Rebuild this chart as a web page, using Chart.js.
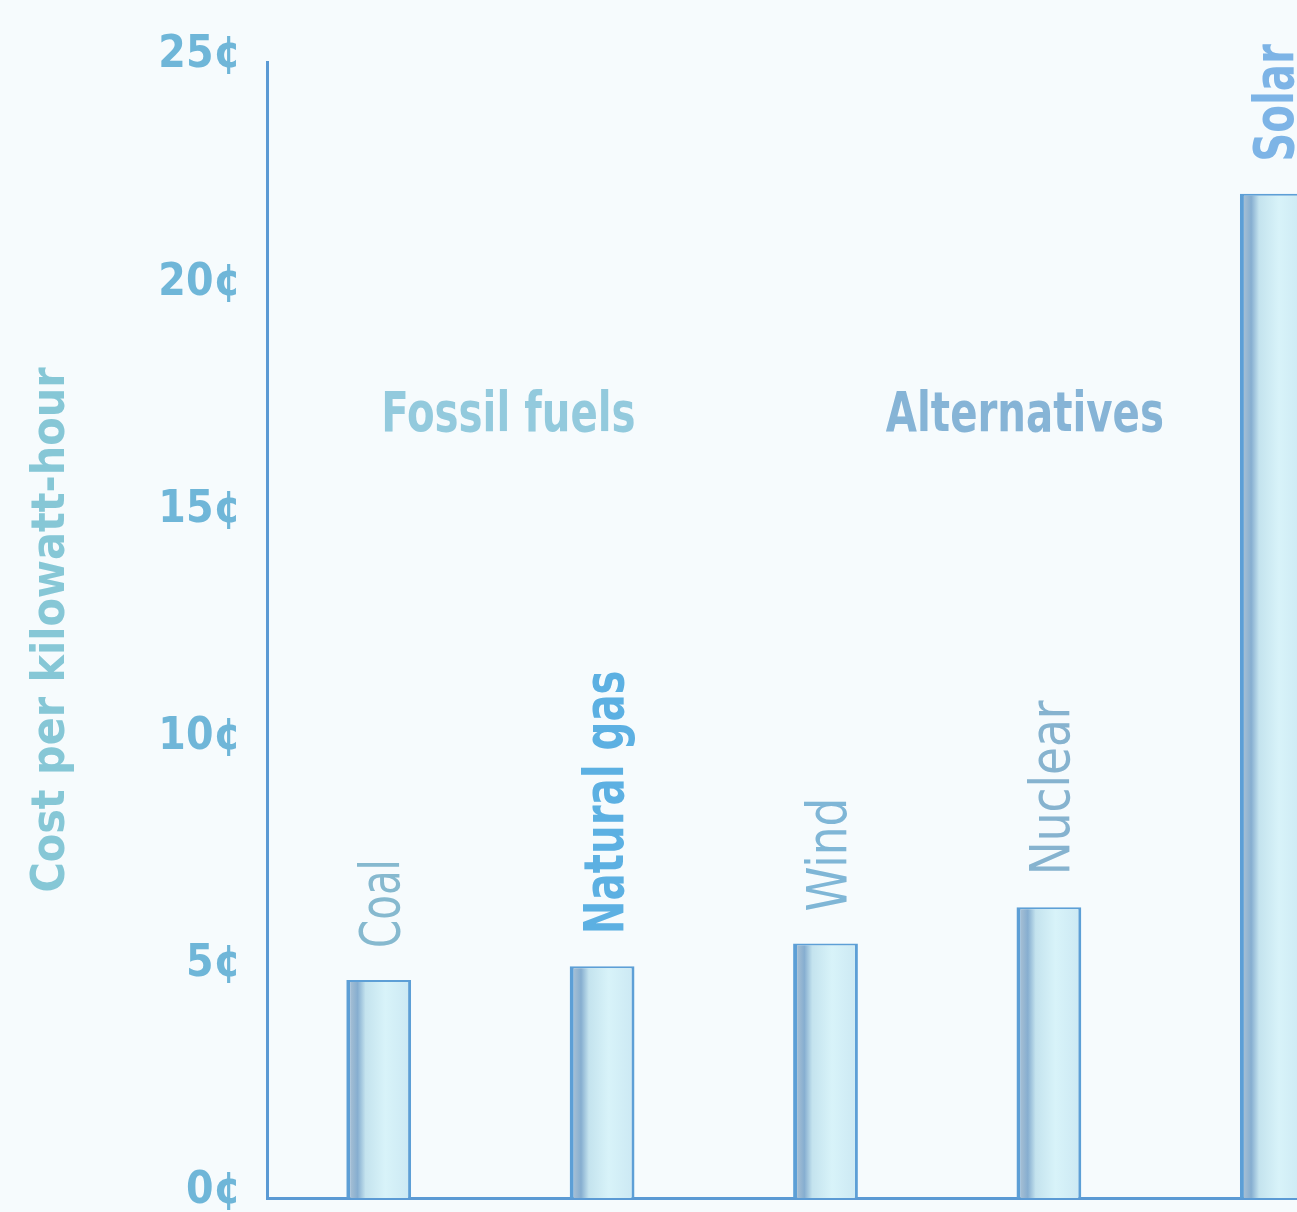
<!DOCTYPE html>
<html>
<head>
<meta charset="utf-8">
<title>Cost per kilowatt-hour</title>
<script src="https://cdn.jsdelivr.net/npm/chart.js@4.4.1/dist/chart.umd.min.js"></script>
<style>
  html, body { margin: 0; padding: 0; background: #f6fbfd; overflow: hidden; }
  #wrap { width: 1297px; height: 1212px; overflow: hidden; position: relative; }
  canvas { display: block; }
</style>
</head>
<body>
<div id="wrap"><canvas id="chart" width="1384" height="1212"></canvas></div>
<script>
// Electricity generation cost, cents per kWh
const sources = ['Coal', 'Natural gas', 'Wind', 'Nuclear', 'Solar'];
const costCents = [4.8, 5.1, 5.6, 6.4, 22.1];
const yTicks = [0, 5, 10, 15, 20, 25];
const groupLabels = ['Fossil fuels', 'Alternatives'];
const groupMembers = [[0, 1], [2, 3, 4]];

const NARROW = "'Liberation Sans Narrow', 'DejaVu Sans Condensed', 'Roboto', sans-serif";
const labelColors = ['#86b9cf', '#5cb0e2', '#7fb6d6', '#86b3cf', '#7db4e6'];
const labelBold = [false, true, false, false, true];
const labelSqueeze = [0.8, 0.8, 0.9, 0.9, 0.8]; // horizontal compression per name

// Per-bar horizontal shading: darker left edge fading into pale cyan
function barFill(ctx) {
  const chart = ctx.chart;
  const xs = chart.scales.x;
  if (!xs || ctx.dataIndex === undefined) return '#d4eff7';
  const cx = xs.getPixelForValue(ctx.dataIndex);
  if (!isFinite(cx)) return '#d4eff7';
  const half = 33;
  const g = chart.ctx.createLinearGradient(cx - half, 0, cx + half, 0);
  g.addColorStop(0, '#b9c9d6');
  g.addColorStop(0.18, '#86aed0');
  g.addColorStop(0.3, '#c4e3ee');
  g.addColorStop(0.6, '#d8f3f9');
  g.addColorStop(1, '#cbe8f3');
  return g;
}

// Rotated category names above each bar
const barNames = {
  id: 'barNames',
  afterDatasetsDraw(chart) {
    const c = chart.ctx;
    const meta = chart.getDatasetMeta(0);
    meta.data.forEach((el, i) => {
      c.save();
      c.translate(el.x + 6, el.y - 32);
      c.rotate(-Math.PI / 2);
      c.scale(labelSqueeze[i], 1);
      c.font = (labelBold[i] ? 'bold ' : '') + '56px ' + NARROW;
      c.fillStyle = labelColors[i];
      c.textAlign = 'left';
      c.textBaseline = 'middle';
      c.fillText(sources[i], 0, 0);
      c.restore();
    });
  }
};

// Group headings placed over their member categories
const groupHeads = {
  id: 'groupHeads',
  afterDatasetsDraw(chart) {
    const c = chart.ctx;
    const xs = chart.scales.x, ys = chart.scales.y;
    const colors = ['#93cadd', '#86b4d6'];
    groupLabels.forEach((txt, g) => {
      const idx = groupMembers[g];
      const x = (xs.getPixelForValue(idx[0]) + xs.getPixelForValue(idx[idx.length - 1])) / 2;
      const y = ys.getPixelForValue(17.2);
      c.save();
      c.translate(x + (g === 0 ? 18 : -24), y);
      c.scale(0.8, 1);
      c.font = 'bold 56px ' + NARROW;
      c.fillStyle = colors[g];
      c.textAlign = 'center';
      c.textBaseline = 'middle';
      c.fillText(txt, 0, 0);
      c.restore();
    });
  }
};

new Chart(document.getElementById('chart'), {
  type: 'bar',
  data: {
    labels: sources,
    datasets: [{
      data: costCents,
      backgroundColor: barFill,
      borderColor: '#5d9fd6',
      borderWidth: { left: 4, right: 3, top: 2, bottom: 0 },
      borderSkipped: 'bottom',
      categoryPercentage: 1,
      barPercentage: 0.29
    }]
  },
  options: {
    responsive: false,
    animation: false,
    devicePixelRatio: 1,
    layout: { padding: { top: 62, right: 0, bottom: 14, left: 0 } },
    plugins: { legend: { display: false }, tooltip: { enabled: false } },
    scales: {
      x: {
        grid: { display: false, drawTicks: false },
        border: { display: true, color: '#5b9ad4', width: 3 },
        ticks: { display: false },
        afterFit(s) { s.height = 0; }
      },
      y: {
        min: 0,
        max: 25,
        afterBuildTicks(s) { s.ticks = yTicks.map(v => ({ value: v })); },
        grid: { display: false, drawTicks: false },
        border: { display: true, color: '#5b9ad4', width: 3 },
        ticks: {
          padding: 26,
          labelOffset: -6,
          color: '#6fb6d8',
          font: { family: NARROW, size: 44, weight: 'bold' },
          callback: v => v + '¢'
        },
        title: {
          display: true,
          text: 'Cost per kilowatt-hour',
          color: '#86c7d6',
          font: { family: NARROW, size: 46, weight: 'bold' },
          padding: { top: 24, bottom: 0 }
        },
        afterFit(s) {
          s.width = 267;
          s.paddingTop = 0;
          s.paddingBottom = 0;
        }
      }
    }
  },
  plugins: [barNames, groupHeads]
});
</script>
</body>
</html>
